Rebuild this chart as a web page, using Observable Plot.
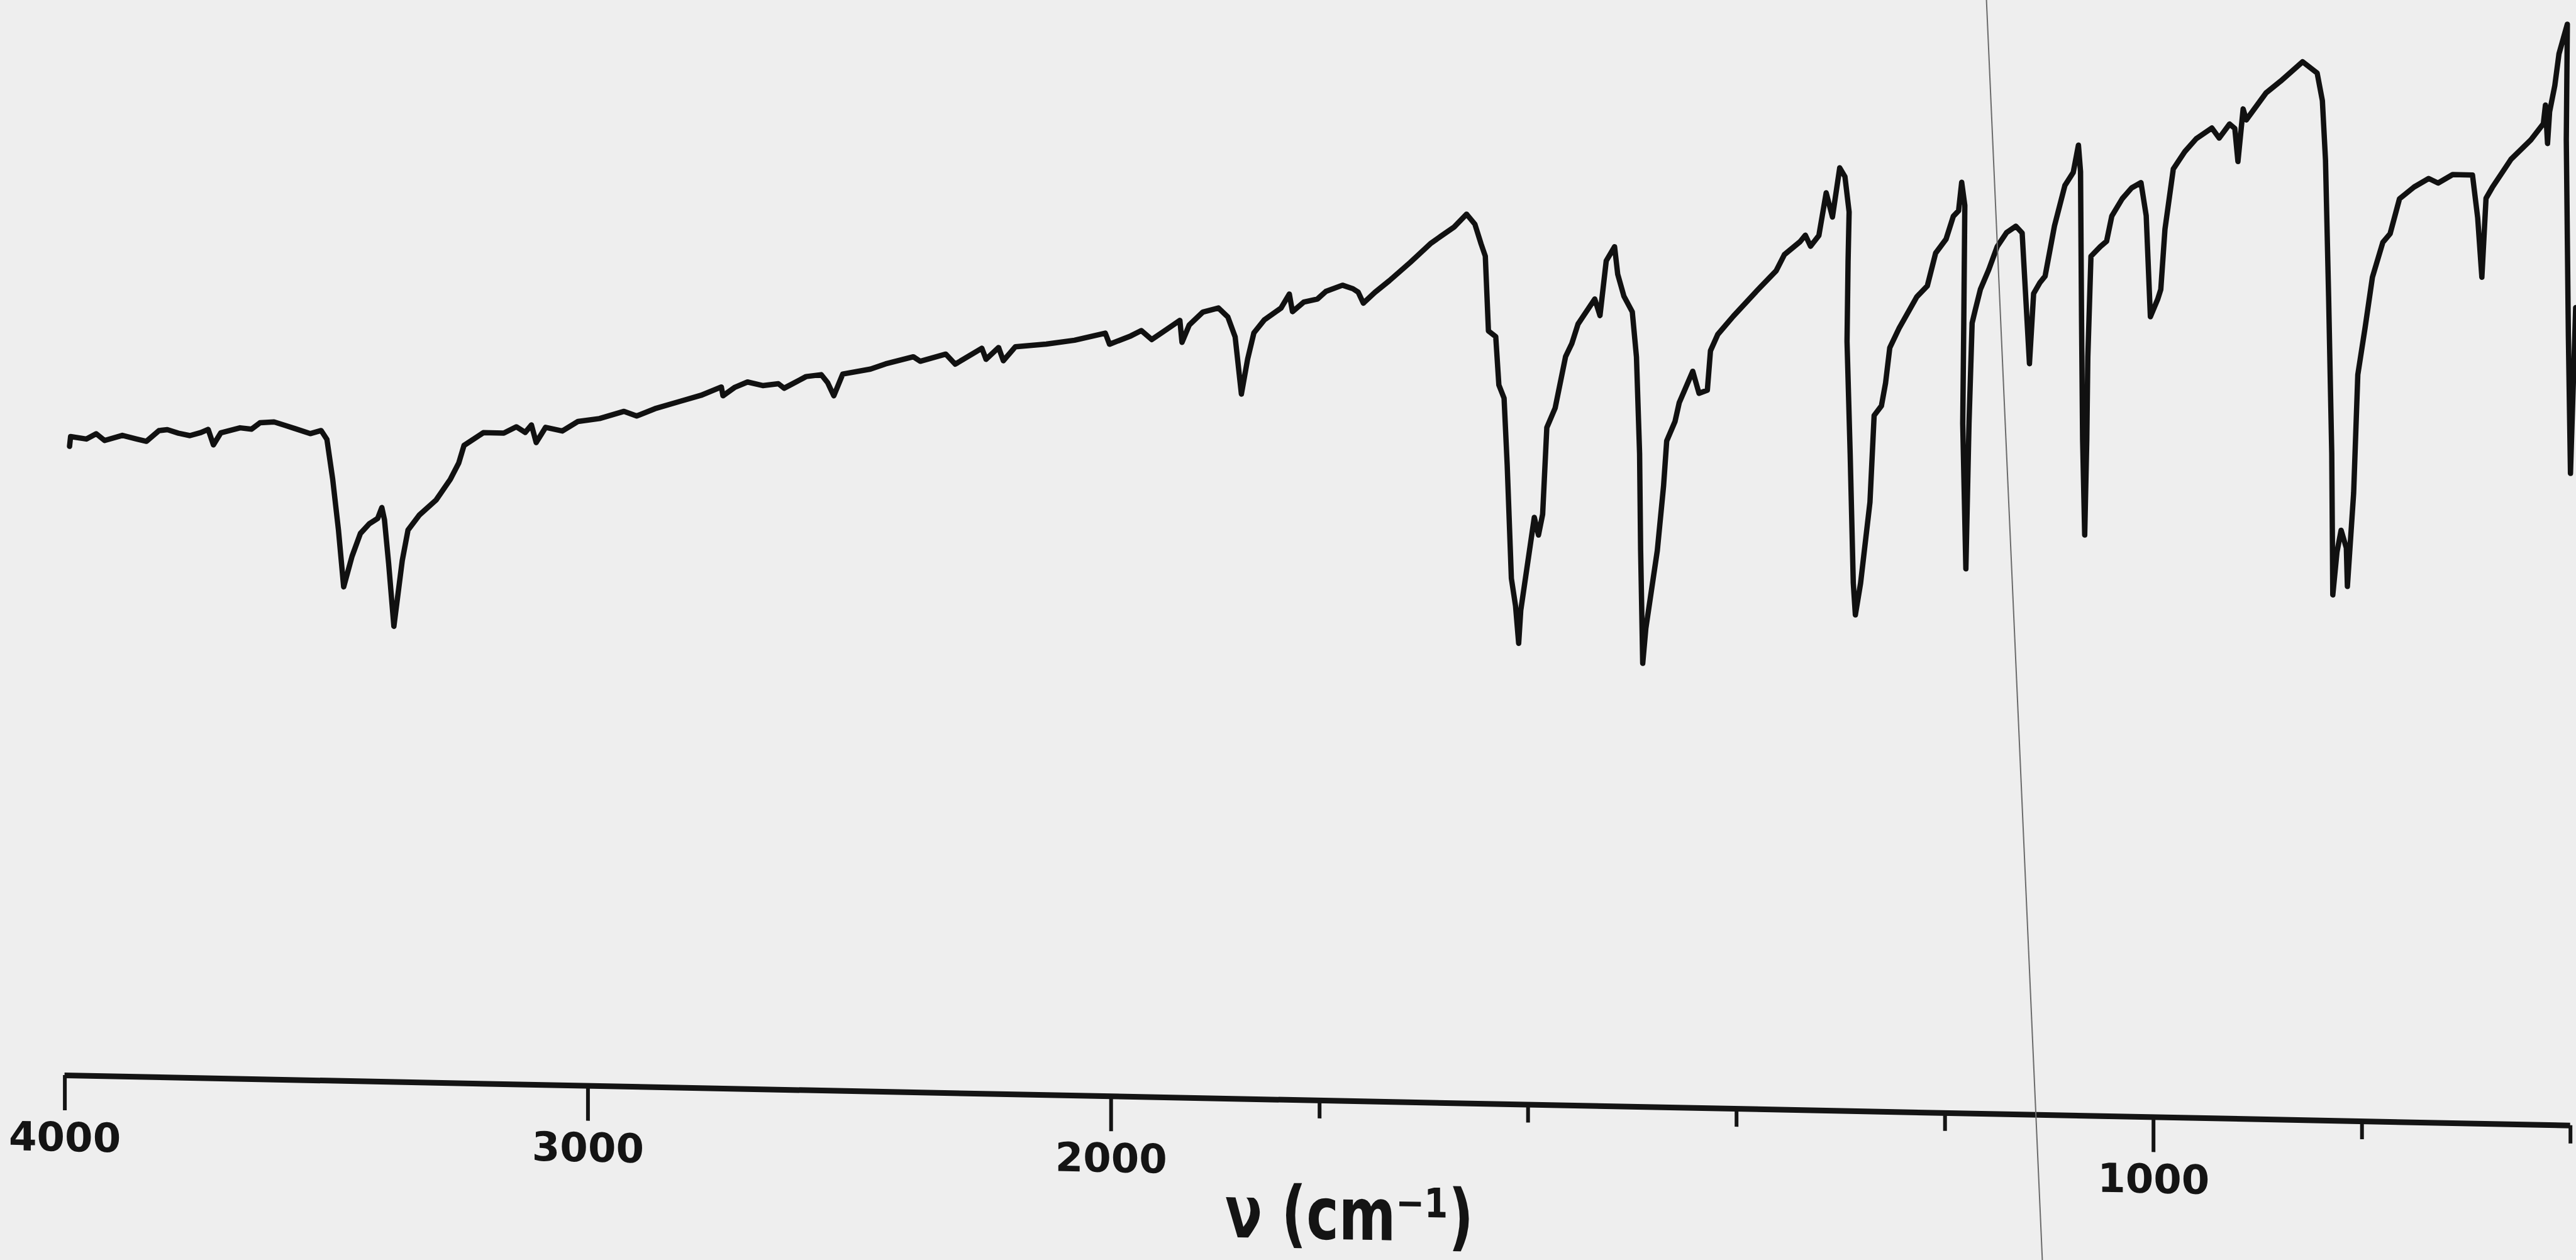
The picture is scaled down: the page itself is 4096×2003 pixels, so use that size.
<!DOCTYPE html>
<html><head><meta charset="utf-8">
<script src="https://cdn.jsdelivr.net/npm/d3@7"></script>
<script src="https://cdn.jsdelivr.net/npm/@observablehq/plot@0.6"></script>
<style>
html,body{margin:0;padding:0;background:#eeeeee;width:4096px;height:2003px;overflow:hidden;}
#chart{position:absolute;left:0;top:0;}
#chart svg{transform:skewY(1.1458deg);transform-origin:102.6px 1709px;overflow:visible;}
#fold{position:absolute;left:3201.6px;top:-2px;width:2px;height:2007px;background:#6a6a6a;transform:rotate(-2.54deg);}
</style></head><body>
<div id="chart"></div>
<div id="fold"></div>
<script>
// IR spectrum: wavenumber (cm-1) and relative transmittance (arbitrary %)
const wavenumber = [3991,3989,3959,3940,3924,3890,3863,3844,3820,3804,3783,3761,3740,3726,3716,3702,3665,3643,3627,3600,
3579,3558,3531,3510,3499,3488,3477,3467,3451,3435,3418,3402,3394,3389,3381,3371,3355,3344,3322,3290,
3263,3247,3237,3200,3161,3137,3120,3108,3099,3081,3049,3019,2978,2931,2907,2872,2825,2784,2745,2742,
2719,2695,2666,2636,2625,2583,2554,2542,2530,2513,2460,2431,2378,2365,2316,2298,2247,2239,2215,2206,
2183,2124,2070,2011,2003,1981,1971,1961,1949,1934,1932,1925,1912,1897,1888,1881,1875,1869,1863,1853,
1837,1829,1826,1815,1802,1794,1778,1768,1763,1758,1747,1733,1713,1693,1671,1659,1651,1645,1641,1638,
1631,1628,1623,1620,1616,1612,1609,1607,1594,1590,1586,1582,1574,1564,1558,1552,1536,1531,1525,1517,
1514,1508,1500,1496,1493,1492,1490,1487,1476,1470,1467,1459,1455,1442,1436,1428,1425,1418,1403,1380,
1362,1354,1339,1334,1329,1321,1314,1308,1301,1296,1292,1293,1294,1291,1288,1286,1281,1272,1268,1261,
1257,1253,1244,1227,1217,1209,1199,1192,1187,1184,1181,1182,1183,1180,1177,1174,1171,1166,1158,1150,
1141,1132,1126,1119,1115,1109,1104,1095,1085,1077,1072,1070,1069,1068,1066,1064,1063,1060,1051,1045,
1040,1030,1021,1012,1007,1003,996,993,989,981,970,959,944,937,927,922,919,914,911,892,
878,857,843,838,835,832,829,828,824,820,815,814,808,804,797,790,780,773,764,750,
736,727,713,694,689,685,681,675,657,638,626,624,622,620,615,611,606,603,604,602,
600,595];
const transmittance = [57.3,58.2,58.0,58.5,57.9,58.4,58.1,57.9,58.9,59.0,58.7,58.5,58.8,59.1,57.7,58.8,59.3,59.2,59.8,59.9,
59.6,59.3,58.9,59.2,58.4,54.8,50.2,45.0,47.8,49.9,50.8,51.3,52.3,51.2,47.2,41.5,47.5,50.3,51.7,53.1,
55.0,56.5,58.1,59.3,59.3,59.9,59.4,60.1,58.5,59.9,59.6,60.5,60.8,61.5,61.1,61.8,62.5,63.1,63.9,63.1,
63.9,64.4,64.1,64.3,63.9,65.0,65.2,64.5,63.3,65.3,65.8,66.3,67.0,66.6,67.3,66.4,67.9,66.9,68.0,66.8,
68.1,68.4,68.8,69.5,68.5,69.3,69.8,69.0,69.8,70.8,68.8,70.4,71.6,72.0,71.2,69.4,64.2,67.4,69.8,71.0,
72.1,73.4,71.8,72.7,73.0,73.7,74.3,74.0,73.7,72.7,73.7,74.8,76.5,78.3,79.8,81.0,80.1,78.3,77.2,70.4,
69.9,65.5,64.3,58.2,47.9,45.4,42.0,45.0,53.5,51.9,53.8,61.7,63.5,68.2,69.4,71.2,73.5,72.0,77.0,78.3,
75.8,73.8,72.4,68.3,59.5,50.7,40.4,43.6,50.7,56.6,60.7,62.5,64.2,67.1,65.1,65.4,69.0,70.5,72.2,74.6,
76.4,77.9,79.1,79.7,78.7,79.7,83.6,81.4,85.9,85.1,81.9,77.4,70.1,59.9,48.1,45.2,48.1,55.5,63.4,64.3,
66.4,69.6,71.4,74.3,75.3,78.3,79.6,81.7,82.2,84.8,82.7,72.0,62.8,49.6,62.8,72.0,73.2,75.1,76.9,79.0,
80.3,80.9,80.3,68.4,74.8,75.8,76.4,81.0,84.7,85.9,88.4,86.0,72.2,61.6,52.9,61.6,69.1,78.3,79.2,79.7,
82.0,83.6,84.6,85.1,82.1,72.9,74.5,75.4,80.9,86.4,88.0,89.2,90.2,89.3,90.6,90.2,87.2,92.0,91.0,93.5,
94.6,96.4,95.4,92.9,87.5,75.0,60.8,47.9,51.8,53.8,52.2,48.7,57.2,68.0,72.3,76.9,80.1,80.9,84.1,85.2,
86.0,85.6,86.4,86.4,82.5,77.1,84.3,85.3,87.9,89.7,91.2,92.9,89.4,92.3,94.7,97.6,99.3,100.3,89.8,71.9,
59.4,74.5];
// x axis: scale doubles below 2000 cm-1
const scaleBreaks = [4000, 2000, 600];
const majorTicks = [4000, 3000, 2000, 1000];
const minorTicks = [1800, 1600, 1400, 1200, 800, 600];
const axisLabel = "ν (cm⁻¹)";

const spectrum = wavenumber.map((w, i) => ({w, t: transmittance[i]}));
const axisSpan = [{from: scaleBreaks[0], to: scaleBreaks[scaleBreaks.length - 1], level: 0}];

const chart = Plot.plot({
  width: 4096, height: 2003,
  marginLeft: 103, marginRight: 9, marginTop: 0, marginBottom: 294,
  style: {background: "transparent", color: "#141414", fontFamily: "DejaVu Sans", overflow: "visible"},
  x: {type: "linear", domain: scaleBreaks, range: [102.6, 1766.2, 4086.7]},
  y: {domain: [0, 100], range: [1709, -36.3], axis: null},
  marks: [
    Plot.ruleY(axisSpan, {y: "level", x1: "from", x2: "to", stroke: "#141414", strokeWidth: 9}),
    Plot.axisX({ticks: majorTicks, tickSize: 56, tickPadding: 19, strokeWidth: 6, fontSize: 64,
      fontWeight: "bold", tickFormat: d => String(d), label: null}),
    Plot.axisX({ticks: minorTicks, tickSize: 29, strokeWidth: 6, tickFormat: () => "", label: null}),
    Plot.line(spectrum, {x: "w", y: "t", stroke: "#111", strokeWidth: 8.5,
      strokeLinejoin: "round", strokeLinecap: "round"}),
    Plot.text([axisLabel], {text: d => d, frameAnchor: "bottom", dx: 50, dy: 220,
      fontSize: 116, fontWeight: "bold", fill: "#141414"})
  ]
});
d3.select(chart).selectAll("text")
  .filter(function() { return this.textContent === axisLabel; })
  .attr("textLength", 395).attr("lengthAdjust", "spacingAndGlyphs");
document.getElementById("chart").appendChild(chart);
</script>
</body></html>
